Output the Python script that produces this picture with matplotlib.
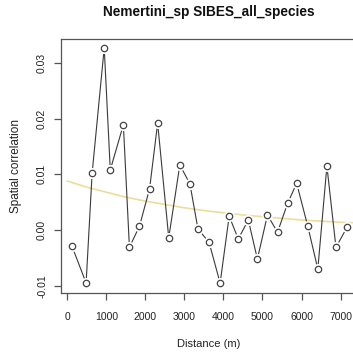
import matplotlib
matplotlib.use("Agg")
import matplotlib.pyplot as plt

distance = [121, 483, 637, 947, 1102, 1437, 1592, 1850, 2108, 2315, 2599, 2883, 3141, 3347,
            3631, 3915, 4147, 4379, 4637, 4869, 5127, 5385, 5643, 5875, 6159, 6417, 6649, 6881, 7165]
correlation = [-0.0029, -0.0095, 0.0102, 0.0327, 0.0108, 0.0189, -0.0031, 0.0007, 0.0074, 0.0192,
               -0.0014, 0.0117, 0.0083, 0.0002, -0.0022, -0.0095, 0.0025, -0.0016, 0.0018, -0.0052,
               0.0027, -0.0004, 0.0048, 0.0084, 0.0007, -0.0070, 0.0115, -0.0031, 0.0005]

fit_distance = [0, 500, 1000, 1500, 2000, 2500, 3000, 3500, 4000, 4500, 5000, 5500, 6000, 6500, 7000, 7400]
fit_value = [0.0088, 0.0077, 0.0068, 0.0059, 0.0052, 0.0046, 0.0040, 0.0035, 0.0031, 0.0027,
             0.0024, 0.0021, 0.0018, 0.0016, 0.0014, 0.0013]

xticks = [0, 1000, 2000, 3000, 4000, 5000, 6000, 7000]
yticks = [-0.01, 0.00, 0.01, 0.02, 0.03]

plt.rcParams['font.family'] = ['Liberation Sans', 'DejaVu Sans']

fig = plt.figure(figsize=(3.53, 3.58), dpi=100)
ax = fig.add_axes([61/353, 1 - 293/358, 296/353, (293 - 39)/358])

ax.plot(fit_distance, fit_value, color='#eedc9a', lw=1.2, zorder=1)
ax.plot(distance, correlation, color='#3a3a3a', lw=0.8, zorder=2)
ax.plot(distance, correlation, linestyle='none', marker='o', ms=8, mfc='white',
        mec='none', zorder=3)
ax.plot(distance, correlation, linestyle='none', marker='o', ms=4.6, mfc='white',
        mec='#444444', mew=0.9, zorder=4)

ax.set_xlim(-160, 7420)
ax.set_ylim(-0.0113, 0.0343)
ax.set_xticks(xticks)
ax.set_xticklabels([str(t) for t in xticks])
ax.set_yticks(yticks)
ax.set_yticklabels(['-0.01', '0.00', '0.01', '0.02', '0.03'], rotation=90, va='center')

for s in ax.spines.values():
    s.set_color('#555555')
    s.set_linewidth(0.9)
ax.tick_params(axis='both', colors='#555555', labelcolor='#222222', labelsize=7.5,
               length=5, width=0.9)
ax.tick_params(axis='x', pad=9)
ax.tick_params(axis='y', pad=5)

ax.set_xlabel('Distance (m)', fontsize=8, color='#222222', labelpad=12)
ax.set_ylabel('Spatial correlation', fontsize=8.5, color='#222222', labelpad=11)
fig.text(209/353, 1 - 12/358, 'Nemertini_sp SIBES_all_species', ha='center', va='center',
         fontsize=9.8, fontweight='bold', color='#111111')

fig.savefig('out.png', dpi=100)
